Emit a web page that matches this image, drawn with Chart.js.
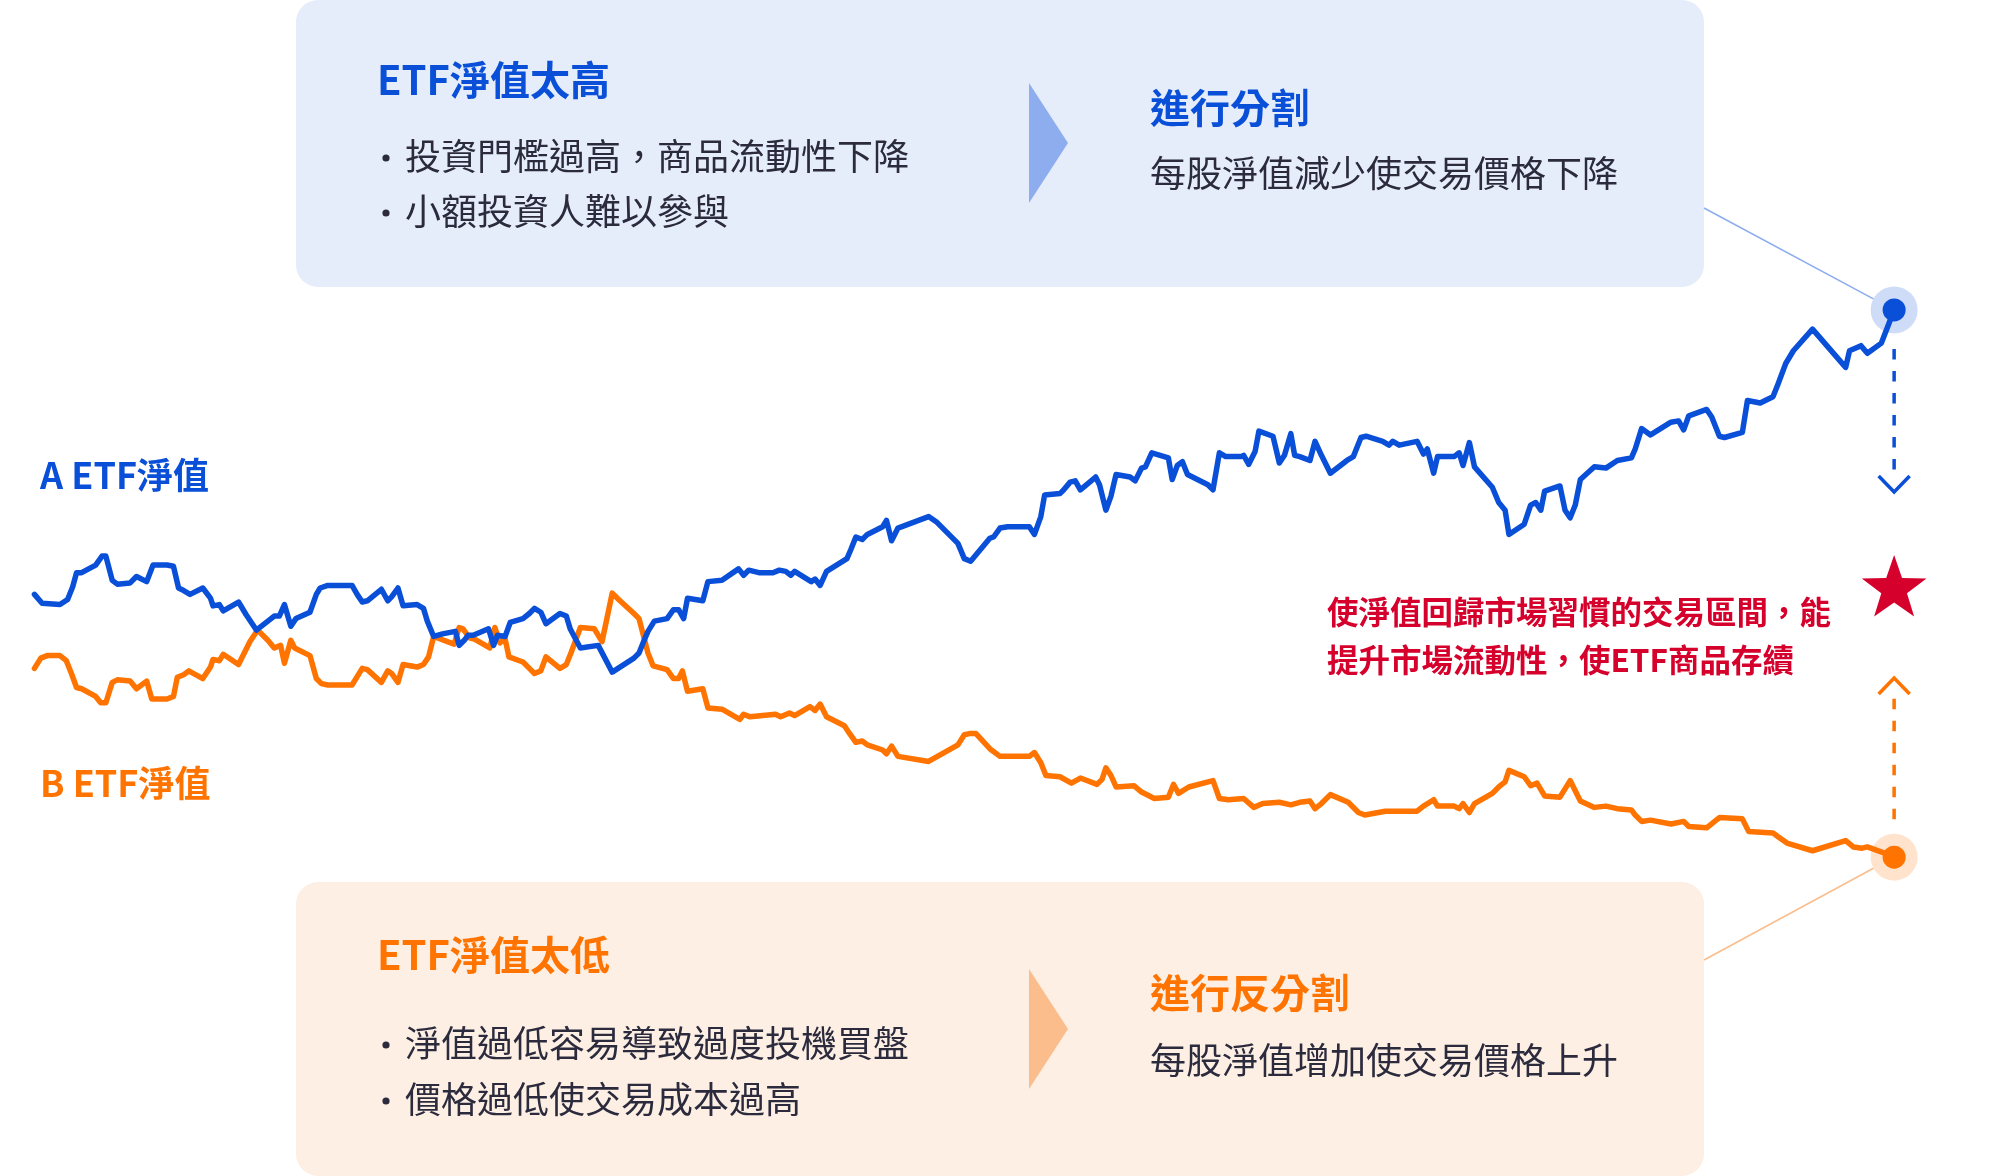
<!DOCTYPE html>
<html lang="zh-Hant">
<head>
<meta charset="utf-8">
<title>ETF 分割與反分割</title>
<script src="https://cdn.jsdelivr.net/npm/chart.js@4.4.1/dist/chart.umd.min.js"></script>
<style>
html,body{margin:0;padding:0;background:#fff;}
#wrap{width:2000px;height:1176px;}
</style>
</head>
<body>
<div id="wrap"><canvas id="grafico" width="2000" height="1176"></canvas></div>
<script>
// A ETF 淨值 (días / valor)
const diasA = [27,33,47,53,57,60,64,75,80,83,88,92,102,107,115,120,131,136,140,144,
  149,159,165,167,172,175,187,193,201,215,219,223,228,232,243,248,251,257,276,280,
  284,288,299,304,307,312,316,327,332,335,340,347,357,360,364,367,371,383,387,390,
  396,400,410,415,419,424,428,439,444,447,455,469,480,497,501,505,508,513,523,528,
  532,536,539,551,555,566,579,583,587,595,606,611,616,620,623,636,639,643,648,664,
  667,671,676,680,692,695,699,704,728,734,751,756,761,776,779,784,790,807,811,816,
  819,831,834,839,843,847,859,862,867,871,875,886,890,895,898,903,916,919,923,927,
  931,947,951,956,961,973,975,979,984,987,998,1003,1007,1012,1015,1019,1027,1031,1036,1043,
  1056,1061,1067,1071,1084,1089,1092,1097,1111,1116,1119,1124,1127,1140,1144,1147,1152,1156,1170,1175,
  1180,1183,1195,1200,1204,1208,1211,1223,1227,1231,1235,1239,1250,1259,1268,1279,1282,1287,1294,1310,
  1316,1320,1324,1338,1342,1348,1352,1366,1370,1380,1390,1394,1400,1406,1421,1447,1450,1459,1464,1475,
  1485];
const navA = [23.4,22.7,22.6,23.0,24.0,25.1,25.1,25.7,26.4,26.4,24.5,24.2,24.3,24.8,24.4,25.7,25.7,25.6,23.9,23.7,
  23.4,23.9,23.1,22.5,22.6,22.1,22.8,21.8,20.6,21.7,21.7,22.6,20.9,21.5,22.0,23.4,23.9,24.1,24.1,23.4,
  22.8,22.9,23.8,22.9,23.2,23.9,22.5,22.6,22.3,21.3,20.1,20.3,20.5,19.4,19.8,20.2,20.2,20.7,19.4,20.2,
  20.1,21.2,21.5,21.9,22.3,22.0,21.1,21.9,21.7,20.7,19.2,19.4,17.3,18.4,18.8,19.8,20.5,21.3,21.5,22.2,
  22.2,21.5,23.1,22.9,24.4,24.5,25.4,24.9,25.3,25.1,25.1,25.3,25.2,24.9,25.2,24.4,24.6,24.1,25.2,26.2,
  26.9,27.9,27.7,28.1,28.7,29.2,27.6,28.6,29.5,29.1,27.4,26.2,26.0,27.8,27.9,28.6,28.7,28.7,28.1,29.5,
  31.2,31.3,31.6,32.2,32.3,31.6,32.6,32.0,30.0,31.1,32.8,32.6,32.3,33.3,33.4,34.5,34.1,32.4,33.5,33.8,
  32.8,32.0,31.6,34.5,34.2,34.2,34.3,33.6,34.6,36.2,35.8,33.7,34.3,36.0,34.3,34.2,33.9,35.4,34.3,32.9,
  33.9,34.2,35.7,35.8,35.4,35.1,35.4,35.1,35.4,34.4,34.8,32.9,34.2,34.2,34.5,33.5,35.3,33.4,31.8,30.6,
  30.0,28.1,28.9,30.4,30.6,30.0,31.5,31.9,30.0,29.4,30.4,32.4,33.4,33.3,33.9,34.1,34.8,36.4,35.9,36.9,
  37.0,36.3,37.4,37.9,37.3,35.8,35.7,36.1,38.6,38.4,38.9,39.9,41.5,42.5,44.2,41.2,42.5,42.9,42.3,43.1,
  45.7];

// B ETF 淨值
const diasB = [27,32,37,47,52,56,60,64,75,79,83,88,92,102,107,115,119,131,136,139,
  144,148,159,165,167,172,175,187,196,202,210,215,220,223,228,231,243,248,252,257,
  276,284,288,299,304,307,312,316,327,332,336,340,356,360,363,368,372,384,388,392,
  396,399,410,415,419,424,428,439,444,448,455,466,472,480,485,497,501,508,512,523,
  528,532,535,539,551,555,566,580,583,588,608,612,619,623,635,639,643,648,662,666,
  671,676,680,692,695,699,704,728,751,756,761,765,776,784,807,811,816,820,831,840,
  847,860,864,867,871,875,889,895,905,916,920,924,932,951,956,963,975,983,990,1003,
  1012,1019,1027,1031,1036,1043,1057,1065,1070,1086,1096,1111,1116,1124,1127,1140,1144,1147,1152,1156,
  1170,1175,1180,1183,1195,1200,1205,1211,1223,1231,1239,1250,1259,1268,1279,1282,1287,1294,1310,1320,
  1324,1338,1348,1366,1371,1390,1394,1401,1421,1447,1453,1460,1464,1478,1485];
const navB = [17.6,18.4,18.6,18.6,18.2,17.2,16.1,16.0,15.4,14.9,14.9,16.5,16.7,16.6,16.0,16.6,15.2,15.2,15.4,16.9,
  17.1,17.4,16.8,17.7,18.3,18.2,18.7,17.9,19.7,20.6,19.8,19.2,19.4,18.0,19.8,19.2,18.6,16.8,16.4,16.3,
  16.3,17.6,17.5,16.5,17.4,17.2,16.5,17.9,17.7,17.9,18.5,20.1,19.5,20.8,20.7,20.0,19.9,19.2,20.8,19.6,
  19.9,18.5,18.1,17.6,17.2,17.4,18.5,17.6,17.9,18.9,20.8,20.7,19.7,23.5,23.0,21.9,21.5,18.8,17.8,17.5,
  16.8,16.8,17.4,15.8,16.0,14.5,14.4,13.6,14.0,13.8,14.0,13.8,14.1,13.9,14.6,14.3,14.8,13.8,13.1,12.5,
  11.8,11.9,11.6,11.2,10.9,11.5,10.7,10.3,11.6,12.4,12.5,12.5,11.3,10.7,10.7,11.0,10.2,9.2,9.1,8.6,
  9.0,8.5,8.9,9.8,9.2,8.3,8.4,7.9,7.4,7.5,8.5,7.8,8.3,8.8,7.4,7.3,7.4,6.7,7.0,7.1,
  6.9,7.1,7.2,6.6,7.0,7.7,7.1,6.3,6.1,6.4,6.4,6.4,6.8,7.3,6.8,6.8,6.6,7.0,6.3,7.0,
  7.8,8.3,8.7,9.6,9.1,8.4,8.6,7.6,7.5,8.8,7.2,6.7,6.8,6.6,6.5,6.1,5.6,5.7,5.4,5.6,
  5.2,5.1,5.9,5.8,4.8,4.7,4.4,3.9,3.3,4.1,3.6,3.5,3.6,3.1,2.8];

// textos
const etiquetaA = 'A ETF淨值';
const etiquetaB = 'B ETF淨值';
const tituloAlto = 'ETF淨值太高';
const puntosAlto = ['投資門檻過高，商品流動性下降', '小額投資人難以參與'];
const accionAlto = '進行分割';
const efectoAlto = '每股淨值減少使交易價格下降';
const tituloBajo = 'ETF淨值太低';
const puntosBajo = ['淨值過低容易導致過度投機買盤', '價格過低使交易成本過高'];
const accionBajo = '進行反分割';
const efectoBajo = '每股淨值增加使交易價格上升';
const conclusion = ['使淨值回歸市場習慣的交易區間，能', '提升市場流動性，使ETF商品存續'];

const AZUL = '#0a4fd8';
const NARANJA = '#ff7300';
const ROJO = '#d5002b';
const OSCURO = '#2b2b3d';
const FUENTE = '"Noto Sans CJK TC", "Noto Sans", sans-serif';

function puntos(dias, valores){
    return dias.map((d, i) => ({x: d, y: valores[i]}));
}

function texto(ctx, str, x, y, font, color){
    ctx.font = font;
    ctx.fillStyle = color;
    ctx.textBaseline = 'middle';
    ctx.textAlign = 'left';
    ctx.fillText(str, x, y);
}

function ultimoPunto(chart, idx){
    const meta = chart.getDatasetMeta(idx);
    const p = meta.data[meta.data.length - 1];
    return {x: p.x, y: p.y};
}

function estrella(ctx, cx, cy, R, r){
    ctx.beginPath();
    for(let i = 0; i < 10; i++){
        const rad = (i % 2 === 0) ? R : r;
        const ang = -Math.PI / 2 + i * Math.PI / 5;
        const px = cx + rad * Math.cos(ang);
        const py = cy + rad * Math.sin(ang);
        if(i === 0) ctx.moveTo(px, py); else ctx.lineTo(px, py);
    }
    ctx.closePath();
    ctx.fill();
}

function flecha(ctx, x, y1, y2, punta, dir, color){
    ctx.save();
    ctx.strokeStyle = color;
    ctx.lineWidth = 3.5;
    ctx.setLineDash([10.5, 11.5]);
    ctx.beginPath();
    ctx.moveTo(x, y1);
    ctx.lineTo(x, y2);
    ctx.stroke();
    ctx.setLineDash([]);
    ctx.beginPath();
    ctx.moveTo(x - 15.5, punta - dir * 16);
    ctx.lineTo(x, punta);
    ctx.lineTo(x + 15.5, punta - dir * 16);
    ctx.stroke();
    ctx.restore();
}

function caja(ctx, y, alto, fondo, tri, colTitulo, titulo, lineas, accion, efecto, yT, yL, triY, yA, yE){
    ctx.fillStyle = fondo;
    ctx.beginPath();
    ctx.roundRect(296, y, 1408, alto, 22);
    ctx.fill();

    ctx.fillStyle = tri;
    ctx.beginPath();
    ctx.moveTo(1029, triY - 60);
    ctx.lineTo(1068, triY);
    ctx.lineTo(1029, triY + 60);
    ctx.closePath();
    ctx.fill();

    texto(ctx, titulo, 377, yT, 'bold 40px ' + FUENTE, colTitulo);
    lineas.forEach((l, i) => {
        ctx.fillStyle = OSCURO;
        ctx.beginPath();
        ctx.arc(386, yL[i] + 2, 3.6, 0, Math.PI * 2);
        ctx.fill();
        texto(ctx, l, 405, yL[i], '36px ' + FUENTE, OSCURO);
    });
    texto(ctx, accion, 1150, yA, 'bold 40px ' + FUENTE, colTitulo);
    texto(ctx, efecto, 1150, yE, '36px ' + FUENTE, OSCURO);
}

function conector(ctx, x1, y1, p, r, color){
    const dx = p.x - x1, dy = p.y - y1;
    const d = Math.sqrt(dx * dx + dy * dy);
    ctx.strokeStyle = color;
    ctx.lineWidth = 1.6;
    ctx.beginPath();
    ctx.moveTo(x1, y1);
    ctx.lineTo(p.x - dx / d * r, p.y - dy / d * r);
    ctx.stroke();
}

const decoracion = {
    id: 'decoracion',
    beforeDatasetsDraw(chart){
        const ctx = chart.ctx;
        const pA = ultimoPunto(chart, 0);
        const pB = ultimoPunto(chart, 1);
        ctx.save();

        caja(ctx, 0, 287, '#e5edfb', '#8eadef', AZUL, tituloAlto, puntosAlto, accionAlto, efectoAlto,
            80, [156, 211], 143, 108, 173);
        caja(ctx, 882, 294, '#fdefe4', '#fbbd8c', NARANJA, tituloBajo, puntosBajo, accionBajo, efectoBajo,
            955, [1043, 1099], 1029, 993, 1060);

        conector(ctx, 1704, 208, pA, 23.5, '#8eadef');
        conector(ctx, 1704, 960, pB, 23.5, '#fbbd8c');

        ctx.fillStyle = 'rgba(10,79,216,0.2)';
        ctx.beginPath(); ctx.arc(pA.x, pA.y, 23.5, 0, Math.PI * 2); ctx.fill();
        ctx.fillStyle = 'rgba(255,115,0,0.2)';
        ctx.beginPath(); ctx.arc(pB.x, pB.y, 23.5, 0, Math.PI * 2); ctx.fill();

        flecha(ctx, pA.x, pA.y + 39, 472, 492, 1, AZUL);
        flecha(ctx, pB.x, pB.y - 38, 697, 678, -1, NARANJA);

        ctx.fillStyle = ROJO;
        estrella(ctx, pA.x, 589, 34, 13.5);

        texto(ctx, etiquetaA, 40, 475, 'bold 36px ' + FUENTE, AZUL);
        texto(ctx, etiquetaB, 40, 783, 'bold 36px ' + FUENTE, NARANJA);
        texto(ctx, conclusion[0], 1327, 612, 'bold 31.5px ' + FUENTE, ROJO);
        texto(ctx, conclusion[1], 1327, 660, 'bold 31.5px ' + FUENTE, ROJO);
        ctx.restore();
    },
    afterDatasetsDraw(chart){
        const ctx = chart.ctx;
        const pA = ultimoPunto(chart, 0);
        const pB = ultimoPunto(chart, 1);
        ctx.save();
        ctx.fillStyle = AZUL;
        ctx.beginPath(); ctx.arc(pA.x, pA.y, 11.5, 0, Math.PI * 2); ctx.fill();
        ctx.fillStyle = NARANJA;
        ctx.beginPath(); ctx.arc(pB.x, pB.y, 11.5, 0, Math.PI * 2); ctx.fill();
        ctx.restore();
    }
};

function graficar(){
    const ctx_g = document.getElementById('grafico');
    new Chart(ctx_g, {
        type: 'line',
        data: {
            datasets: [{
                label: etiquetaA,
                data: puntos(diasA, navA),
                borderColor: AZUL,
                borderWidth: 5.5,
                pointRadius: 0,
                tension: 0,
                fill: false,
                clip: false,
                borderJoinStyle: 'round',
                borderCapStyle: 'round'
            }, {
                label: etiquetaB,
                data: puntos(diasB, navB),
                borderColor: NARANJA,
                borderWidth: 5.5,
                pointRadius: 0,
                tension: 0,
                fill: false,
                clip: false,
                borderJoinStyle: 'round',
                borderCapStyle: 'round'
            }]
        },
        options: {
            responsive: false,
            animation: false,
            devicePixelRatio: 1,
            layout: {padding: 0},
            plugins: {legend: {display: false}, tooltip: {enabled: false}},
            scales: {
                x: {type: 'linear', min: 0, max: 1568, display: false},
                y: {type: 'linear', min: -22.2, max: 70, display: false}
            }
        },
        plugins: [decoracion]
    });
}

Promise.all([
    document.fonts.load('36px "Noto Sans CJK TC"', '淨值'),
    document.fonts.load('bold 36px "Noto Sans CJK TC"', '淨值')
]).then(graficar).catch(graficar);
</script>
</body>
</html>
